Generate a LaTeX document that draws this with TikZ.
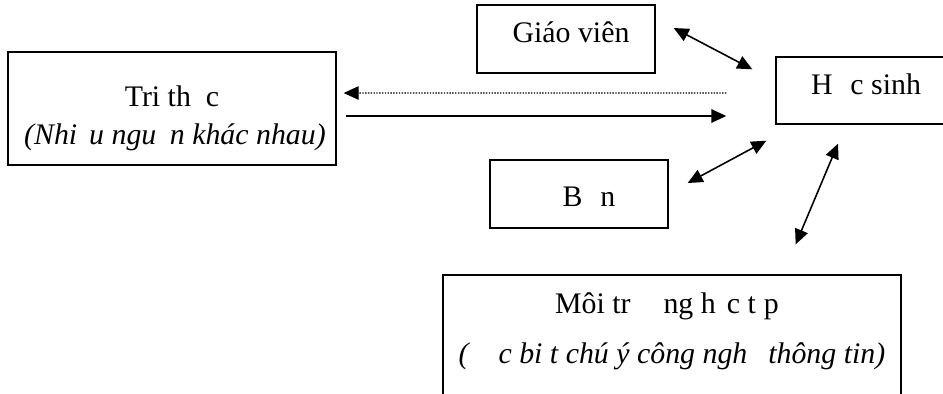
\documentclass[tikz,border=0pt]{standalone}
\usepackage{fontspec}
\setmainfont{Liberation Serif}
\usetikzlibrary{arrows.meta}
\tikzset{
  box/.style={draw, line width=0.8pt, inner sep=0pt},
  link/.style={line width=0.9pt, {Triangle[length=0.3cm,width=0.27cm]}-{Triangle[length=0.3cm,width=0.27cm]}}
}
\begin{document}
\begin{tikzpicture}[x=0.02cm, y=-0.02cm, every node/.style={font=\fontsize{17}{20}\selectfont}]
    \clip (0,0) rectangle (943,393);
    % boxes
    \node[box, minimum width=6.56cm, minimum height=2.26cm] (tt) at (172,108.5) {};
    \node (tt1) at (172,96) {Tri th\hspace{0.5em}c};
    \node (tt2) at (175,137) {\itshape (Nhi\hspace{0.4em}u ngu\hspace{0.45em}n khác nhau)};
    \node[box, minimum width=3.56cm, minimum height=1.36cm] (gv) at (566,39) {};
    \node (gv1) at (571,32) {Giáo viên};
    \node[box, minimum width=3.68cm, minimum height=1.34cm] (hs) at (868,90.5) {};
    \node (hs1) at (866,84) {H\hspace{0.6em}c sinh};
    \node[box, minimum width=3.56cm, minimum height=1.36cm] (bn) at (579,194) {};
    \node (bn1) at (589,197) {B\hspace{0.6em}n};
    \node[box, minimum width=9.16cm, minimum height=2.9cm] (mt) at (672,347.5) {};
    \node (mt1) at (667,306) {Môi tr\hspace{1.1em}ng h\hspace{0.37em}c t\hspace{0.27em}p};
    \node (mt2) at (672,356) {\itshape (\hspace{1em}c bi\hspace{0.25em}t chú ý công ngh\hspace{0.7em}thông tin)};
    % arrows
    \draw[line width=0.6pt, dash pattern=on 0.8pt off 0.8pt, -{Triangle[length=0.3cm,width=0.27cm]}]
      ([shift={(-49,2.5)}]hs.west) -- ([shift={(7,-15.5)}]tt.east);
    \draw[line width=0.9pt, -{Triangle[length=0.3cm,width=0.27cm]}]
      ([shift={(9,7.5)}]tt.east) -- ([shift={(-49,25.5)}]hs.west);
    \draw[link] ([shift={(18,-11)}]gv.east) -- ([shift={(-23,13)}]hs.north west);
    \draw[link] ([shift={(19,-11)}]bn.east) -- ([shift={(-9,16)}]hs.south west);
    \draw[link] ([shift={(-106,-30)}]mt.north east) -- ([shift={(-30,19)}]hs.south);
\end{tikzpicture}
\end{document}
